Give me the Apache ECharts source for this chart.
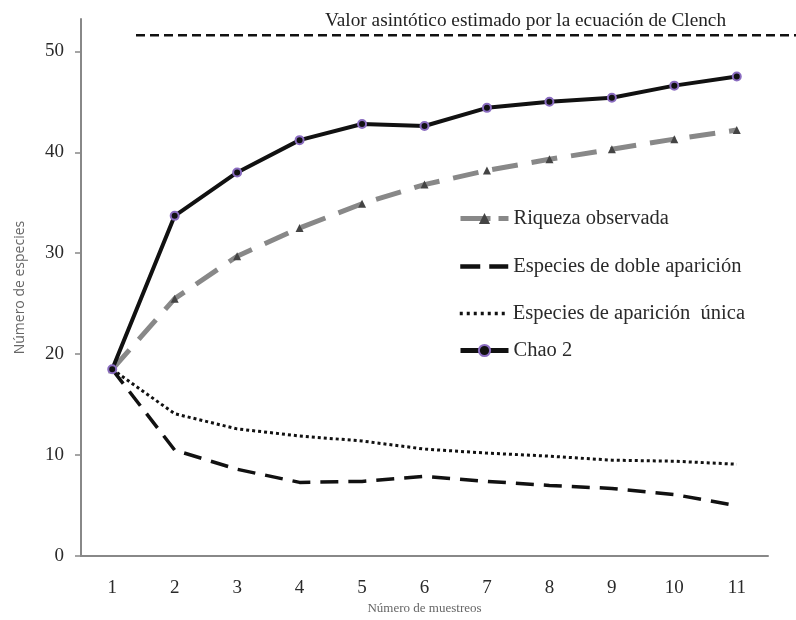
<!DOCTYPE html>
<html><head><meta charset="utf-8">
<script src="https://cdn.jsdelivr.net/npm/echarts@6/dist/echarts.min.js"></script>
<style>html,body{margin:0;padding:0;background:#fff}#c{width:796px;height:620px}</style>
</head><body><div id="c"></div>
<script>
const categories = ['1','2','3','4','5','6','7','8','9','10','11'];
const riqueza = [18.5, 25.5, 29.7, 32.5, 34.9, 36.8, 38.2, 39.3, 40.3, 41.3, 42.2];
const doble = [18.5, 10.5, 8.6, 7.3, 7.4, 7.9, 7.4, 7.0, 6.7, 6.1, 5.0];
const unica = [18.5, 14.1, 12.6, 11.9, 11.4, 10.6, 10.2, 9.9, 9.5, 9.4, 9.1];
const chao2 = [18.5, 33.7, 38.0, 41.2, 42.8, 42.6, 44.4, 45.0, 45.4, 46.6, 47.5];
const clench = 51.6;
const yTicks = [0, 10, 20, 30, 40, 50];
const legendNames = ['Riqueza observada', 'Especies de doble aparición', 'Especies de aparición  única', 'Chao 2'];

const serif = 'Liberation Serif';
const legendTops = [203, 251, 298, 335];
const legendLine = [
  {color: '#888', width: 5, type: [30, 8]},
  {color: '#111', width: 4.5, type: [20, 9]},
  {color: '#111', width: 3.5, type: [3, 4]},
  {color: '#111', width: 5, type: 'solid'}
];
const legendStyle = {fontFamily: serif, fontSize: 20.5, color: '#2a2a2a'};
const chart = echarts.init(document.getElementById('c'));
chart.setOption({
  animation: false,
  title: {
    text: 'Valor asintótico estimado por la ecuación de Clench',
    left: 320, top: 6,
    textStyle: {fontFamily: serif, fontSize: 19.3, fontWeight: 'normal', color: '#222'}
  },
  legend: legendNames.map((n, i) => ({
    orient: 'vertical', left: 453, top: legendTops[i], itemWidth: 48, itemHeight: 14, itemGap: 0,
    textStyle: legendStyle,
    data: [ (i === 1 || i === 2)
      ? {name: n, itemStyle: {opacity: 0}, lineStyle: legendLine[i]}
      : {name: n, lineStyle: legendLine[i]} ]
  })),
  grid: [
    {left: 81, right: 28, top: 19, bottom: 58},
    {left: 136, right: 0, top: 19, bottom: 58}
  ],
  xAxis: [
    {
      type: 'category', data: categories, boundaryGap: true, gridIndex: 0,
      name: 'Número de muestreos', nameLocation: 'middle', nameGap: 36,
      nameTextStyle: {fontFamily: serif, fontSize: 13, color: '#666'},
      axisLine: {lineStyle: {color: '#888', width: 2}},
      axisTick: {show: false},
      axisLabel: {fontFamily: serif, fontSize: 19, color: '#2a2a2a', margin: 22}
    },
    {type: 'value', gridIndex: 1, min: 0, max: 1, show: false}
  ],
  yAxis: [
    {
      type: 'value', min: 0, max: 53.2, gridIndex: 0,
      name: 'Número de especies', nameLocation: 'middle', nameGap: 54, nameRotate: 90,
      nameTextStyle: {fontFamily: 'Open Sans', fontSize: 14, color: '#666'},
      axisLine: {show: true, lineStyle: {color: '#888', width: 2}},
      axisTick: {show: true, length: 6, lineStyle: {color: '#888', width: 1.5}, customValues: yTicks},
      splitLine: {show: false},
      axisLabel: {fontFamily: serif, fontSize: 19, color: '#2a2a2a', margin: 17, customValues: yTicks}
    },
    {type: 'value', gridIndex: 1, min: 0, max: 53.2, show: false}
  ],
  series: [
    {
      name: legendNames[0], type: 'line', data: riqueza, z: 2,
      symbol: 'triangle', symbolSize: 8,
      itemStyle: {color: '#444'},
      lineStyle: {color: '#888', width: 5, type: [26, 14]}
    },
    {
      name: legendNames[1], type: 'line', data: doble, z: 3,
      symbol: 'none', itemStyle: {color: '#111'},
      lineStyle: {color: '#111', width: 3.5, type: [18, 10]}
    },
    {
      name: legendNames[2], type: 'line', data: unica, z: 3,
      symbol: 'none', itemStyle: {color: '#111'},
      lineStyle: {color: '#111', width: 3, type: [3, 3]}
    },
    {
      name: legendNames[3], type: 'line', data: chao2, z: 4,
      symbol: 'circle', symbolSize: 8,
      itemStyle: {color: '#111', borderColor: '#8a6cc0', borderWidth: 2},
      lineStyle: {color: '#111', width: 4}
    },
    {
      name: 'Clench', type: 'line', xAxisIndex: 1, yAxisIndex: 1,
      data: [[0, clench], [1, clench]], symbol: 'none', silent: true,
      lineStyle: {color: '#111', width: 2.5, type: [9, 5]}
    }
  ]
});
</script></body></html>
